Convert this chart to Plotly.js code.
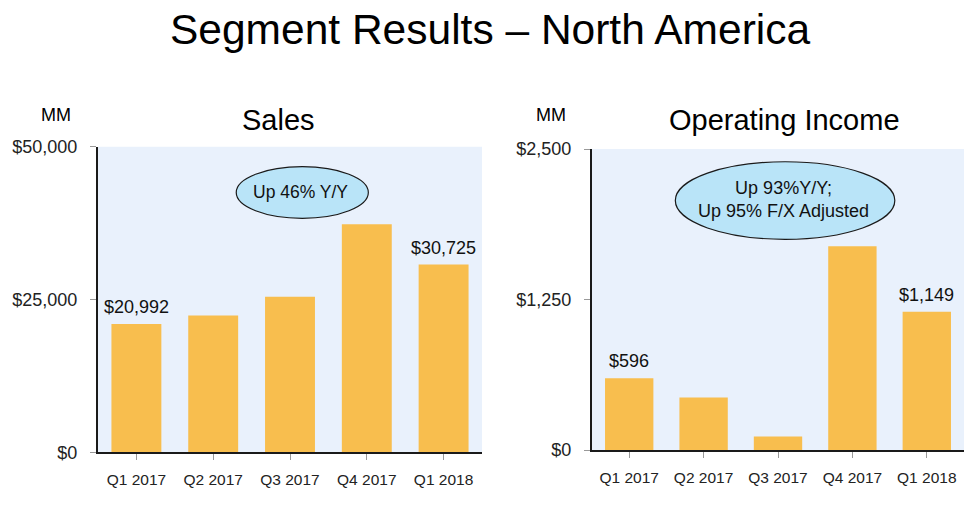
<!DOCTYPE html>
<html>
<head>
<meta charset="utf-8">
<script src="https://cdn.plot.ly/plotly-3.0.1.min.js"></script>
<style>
  html, body { margin: 0; padding: 0; background: #ffffff; }
  #chart { width: 977px; height: 507px; }
</style>
</head>
<body>
<div id="chart"></div>
<script>
// ---- Data ----
const quarters = ['Q1 2017', 'Q2 2017', 'Q3 2017', 'Q4 2017', 'Q1 2018'];
const salesValues = [20992, 22373, 25446, 37302, 30725];
const opIncomeValues = [596, 436, 112, 1692, 1149];
const labeledIdx = [0, 4];
const salesTicks = [0, 25000, 50000];
const opIncomeTicks = [0, 1250, 2500];
const mainTitle = 'Segment Results \u2013 North America';
const salesTitle = 'Sales';
const opIncomeTitle = 'Operating Income';
const unitLabel = 'MM';
const salesNote = 'Up 46% Y/Y';
const opIncomeNote = 'Up 93%Y/Y;<br>Up 95% F/X Adjusted';

// ---- Styles ----
const FONT = 'Liberation Sans, Arial, Helvetica, sans-serif';
const BAR = '#F8BE4E';
const BG = '#E9F1FC';
const ELLIPSE = '#B9E4F8';

const fmt = v => '$' + v.toLocaleString('en-US');

const traces = [
  { type: 'bar', x: quarters, y: salesValues, xaxis: 'x', yaxis: 'y',
    marker: { color: BAR }, hoverinfo: 'x+y' },
  { type: 'bar', x: quarters, y: opIncomeValues, xaxis: 'x2', yaxis: 'y2',
    marker: { color: BAR }, hoverinfo: 'x+y' }
];

function xAxis(domain, anchor) {
  return {
    domain: domain, anchor: anchor, type: 'category', range: [-0.5, 4.5],
    showline: true, linecolor: '#1a1a1a', linewidth: 2,
    ticks: 'outside', ticklen: 6, tickwidth: 1, tickcolor: '#999999',
    showgrid: false, zeroline: false, fixedrange: true,
    tickfont: { family: FONT, size: 15.5, color: '#222' },
    ticklabelstandoff: 6
  };
}
function yAxis(domain, anchor, ticks) {
  return {
    domain: domain, anchor: anchor, range: [0, ticks[ticks.length - 1]],
    tickvals: ticks, ticktext: ticks.map(fmt),
    showline: true, linecolor: '#1a1a1a', linewidth: 2,
    ticks: 'outside', ticklen: 6, tickwidth: 1, tickcolor: '#999999',
    showgrid: false, zeroline: false, fixedrange: true,
    tickfont: { family: FONT, size: 18, color: '#222' },
    ticklabelstandoff: 9
  };
}

function paperText(text, px, py, size) {
  return { text: text, xref: 'paper', yref: 'paper', x: px / 977, y: 1 - py / 507,
    xanchor: 'center', yanchor: 'middle', showarrow: false,
    font: { family: FONT, size: size, color: '#000' } };
}

const annotations = [
  paperText(mainTitle, 490, 30, 42.5),
  paperText(salesTitle, 278, 120, 29),
  paperText(opIncomeTitle, 784, 120, 29),
  paperText(unitLabel, 56, 115, 18),
  paperText(unitLabel, 551, 115, 18),
  { text: salesNote, xref: 'x', yref: 'y', x: 2.14, y: 42600, xanchor: 'center',
    showarrow: false, font: { family: FONT, size: 17.5, color: '#111' }, yanchor: 'middle' },
  { text: opIncomeNote, xref: 'x2', yref: 'y2', x: 2.07, y: 2080, xanchor: 'center',
    showarrow: false, font: { family: FONT, size: 18, color: '#111' }, yanchor: 'middle' }
];
labeledIdx.forEach(i => {
  annotations.push({ text: fmt(salesValues[i]), xref: 'x', yref: 'y', x: quarters[i], y: salesValues[i],
    xanchor: 'center', showarrow: false, yanchor: 'middle', yshift: 17, font: { family: FONT, size: 18, color: '#111' } });
  annotations.push({ text: fmt(opIncomeValues[i]), xref: 'x2', yref: 'y2', x: quarters[i], y: opIncomeValues[i],
    xanchor: 'center', showarrow: false, yanchor: 'middle', yshift: 17, font: { family: FONT, size: 18, color: '#111' } });
});

const shapes = [
  { type: 'rect', xref: 'x domain', yref: 'y domain', x0: 0, x1: 1, y0: 0, y1: 1,
    fillcolor: BG, line: { width: 0 }, layer: 'below' },
  { type: 'rect', xref: 'x2 domain', yref: 'y2 domain', x0: 0, x1: 1, y0: 0, y1: 1,
    fillcolor: BG, line: { width: 0 }, layer: 'below' },
  { type: 'circle', xref: 'x', yref: 'y', x0: 1.30, x1: 3.02, y0: 38285, y1: 46728,
    fillcolor: ELLIPSE, line: { color: '#1a1a1a', width: 1.2 }, layer: 'above' },
  { type: 'circle', xref: 'x2', yref: 'y2', x0: 0.62, x1: 3.57, y0: 1750, y1: 2394,
    fillcolor: ELLIPSE, line: { color: '#1a1a1a', width: 1.2 }, layer: 'above' }
];

const layout = {
  width: 977, height: 507,
  margin: { l: 0, r: 0, t: 0, b: 0 },
  paper_bgcolor: '#ffffff', plot_bgcolor: 'rgba(0,0,0,0)',
  showlegend: false, bargap: 0.35,
  font: { family: FONT, color: '#222' },
  xaxis: xAxis([98 / 977, 482 / 977], 'y'),
  yaxis: yAxis([1 - 452.3 / 507, 1 - 146.7 / 507], 'x', salesTicks),
  xaxis2: xAxis([592 / 977, 964 / 977], 'y2'),
  yaxis2: yAxis([1 - 450 / 507, 1 - 149 / 507], 'x2', opIncomeTicks),
  annotations: annotations,
  shapes: shapes
};

Plotly.newPlot('chart', traces, layout, { displayModeBar: false, staticPlot: true });
</script>
</body>
</html>
